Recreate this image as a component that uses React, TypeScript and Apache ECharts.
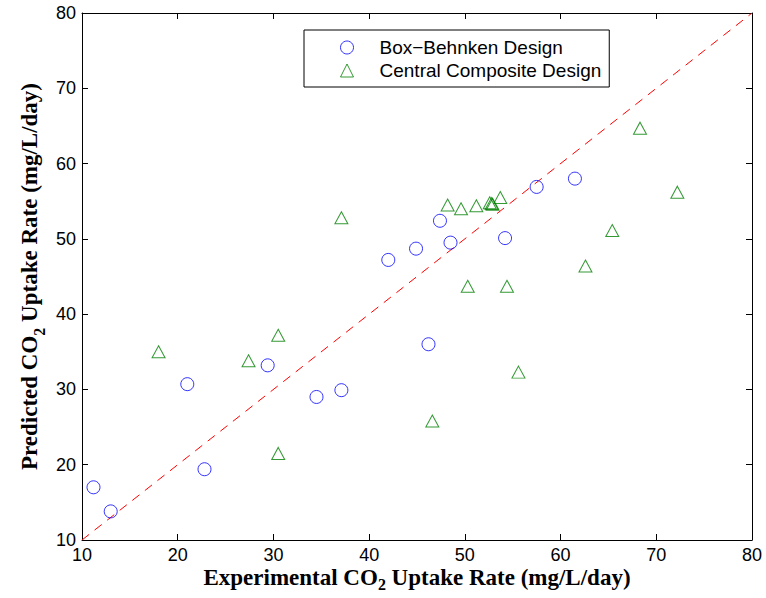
import React, { useEffect, useRef } from "react";
import * as echarts from "echarts";

const bbExperimental = [11.2, 13.0, 21.0, 22.8, 29.4, 34.5, 37.1, 42.0, 44.9, 47.4, 48.5, 54.2, 57.5, 61.5, 46.2];
const bbPredicted = [17.0, 13.8, 30.7, 19.4, 33.2, 29.0, 29.9, 47.2, 48.7, 52.4, 49.5, 50.1, 56.9, 58.0, 36.0];

const ccdExperimental = [18.0, 27.4, 30.5, 30.5, 37.1, 46.6, 48.2, 49.6, 51.2, 52.6, 52.8, 52.9, 53.7, 50.3, 54.4, 55.6, 62.6, 65.4, 68.3, 72.2];
const ccdPredicted = [35.0, 33.8, 37.2, 21.5, 52.8, 25.8, 54.5, 54.0, 54.4, 54.8, 54.7, 54.6, 55.5, 43.7, 43.7, 32.3, 46.4, 51.1, 64.7, 56.2];

const parityLine = [10, 80];
const seriesNames = ["Box\u2212Behnken Design", "Central Composite Design"];
const axisMin = 10;
const axisMax = 80;
const axisInterval = 10;

const sansFont = "Liberation Sans";
const serifFont = "Liberation Serif";

const xTitleRich = {
  t: { fontFamily: serifFont, fontWeight: "bold", fontSize: 23, lineHeight: 17, verticalAlign: "top", color: "#000" },
  s: { fontFamily: serifFont, fontWeight: "bold", fontSize: 16, lineHeight: 16, padding: [10, 0, 0, 0], verticalAlign: "top", color: "#000" },
};

const yTitleRich = {
  t: { fontFamily: serifFont, fontWeight: "bold", fontSize: 23, lineHeight: 23, verticalAlign: "top", color: "#000" },
  s: { fontFamily: serifFont, fontWeight: "bold", fontSize: 16, lineHeight: 16, padding: [13, 0, 0, 0], verticalAlign: "top", color: "#000" },
};

export default function App() {
  const ref = useRef<HTMLDivElement>(null);
  useEffect(() => {
    if (!ref.current) return;
    const chart = echarts.init(ref.current, undefined, { renderer: "svg" });
    const axisCommon = {
      type: "value",
      min: axisMin,
      max: axisMax,
      interval: axisInterval,
      splitLine: { show: false },
      axisLine: { show: true, onZero: false, lineStyle: { color: "#000", width: 1 } },
      axisTick: { show: true, inside: true, length: 6, lineStyle: { color: "#000", width: 1 } },
    };
    chart.setOption({
      animation: false,
      backgroundColor: "#fff",
      grid: { left: 82, right: 14, top: 13, bottom: 58, containLabel: false, outerBoundsMode: "none" },
      legend: {
        left: 304,
        top: 30,
        orient: "vertical",
        data: seriesNames,
        itemWidth: 13,
        itemHeight: 13,
        itemGap: 4,
        padding: [8, 8, 7, 36],
        borderColor: "#000",
        borderWidth: 1,
        backgroundColor: "#fff",
        itemStyle: { borderWidth: 1 },
        formatter: "{n|{name}}",
        textStyle: {
          fontFamily: sansFont,
          fontSize: 19,
          color: "#000",
          rich: { n: { fontFamily: sansFont, fontSize: 19, lineHeight: 19, color: "#000", padding: [0, 0, 0, 21] } },
        },
      },
      xAxis: [
        {
          ...axisCommon,
          position: "bottom",
          name: "{t|Experimental CO}{s|2}{t| Uptake Rate (mg/L/day)}",
          nameLocation: "middle",
          nameGap: 26,
          nameMoveOverlap: false,
          nameTextStyle: { rich: xTitleRich },
          axisLabel: { fontFamily: sansFont, fontSize: 18, lineHeight: 14, color: "#000", margin: 8 },
        },
        {
          ...axisCommon,
          position: "top",
          axisLabel: { show: false },
        },
      ],
      yAxis: [
        {
          ...axisCommon,
          position: "left",
          name: "{t|Predicted CO}{s|2}{t| Uptake Rate (mg/L/day)}",
          nameLocation: "middle",
          nameGap: 41,
          nameMoveOverlap: false,
          nameRotate: 90,
          nameTextStyle: { rich: yTitleRich },
          axisLabel: { fontFamily: sansFont, fontSize: 18, color: "#000", margin: 6 },
        },
        {
          ...axisCommon,
          position: "right",
          axisLabel: { show: false },
        },
      ],
      series: [
        {
          type: "line",
          data: parityLine.map((v) => [v, v]),
          symbol: "none",
          silent: true,
          lineStyle: { color: "#ff0000", width: 1, type: [9, 7] },
          z: 1,
        },
        {
          name: seriesNames[0],
          type: "scatter",
          data: bbExperimental.map((x, i) => [x, bbPredicted[i]]),
          symbol: "circle",
          symbolSize: 13,
          itemStyle: { color: "transparent", borderColor: "#0000ff", borderWidth: 1 },
          z: 3,
        },
        {
          name: seriesNames[1],
          type: "scatter",
          data: ccdExperimental.map((x, i) => [x, ccdPredicted[i]]),
          symbol: "triangle",
          symbolSize: [13, 12],
          itemStyle: { color: "transparent", borderColor: "#008000", borderWidth: 1 },
          z: 3,
        },
      ],
    });
    return () => chart.dispose();
  }, []);
  return <div ref={ref} style={{ position: "fixed", left: 0, top: 0, width: 766, height: 598, background: "#fff" }} />;
}
